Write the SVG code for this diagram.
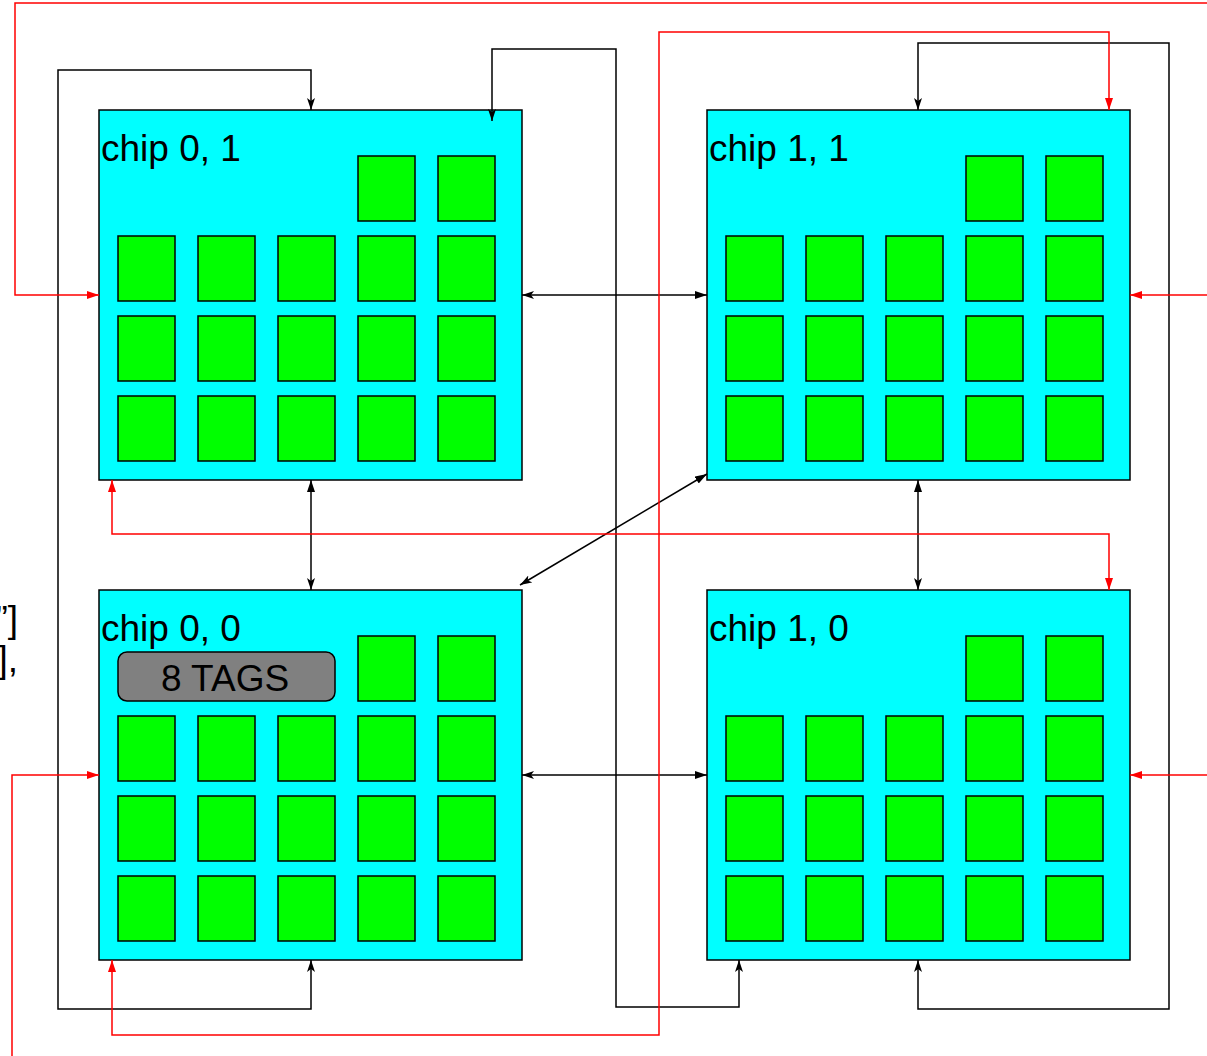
<svg xmlns="http://www.w3.org/2000/svg" xmlns:xlink="http://www.w3.org/1999/xlink" width="1207" height="1056" viewBox="0 0 1207 1056">
<style>
.chip{fill:#00ffff;stroke:#000;stroke-width:1.5}
.core{fill:#00ff00;stroke:#000;stroke-width:1.5}
.tags{fill:#808080;stroke:#000;stroke-width:1.5}
.lbl{font-family:"Liberation Sans",Arial,sans-serif;font-size:37px;fill:#000}
.blk{fill:none;stroke:#000;stroke-width:1.5}
.red{fill:none;stroke:#ff0000;stroke-width:1.5}
</style>
<defs>
<marker id="tri" markerUnits="userSpaceOnUse" markerWidth="13" markerHeight="9" refX="12" refY="4" orient="auto-start-reverse" viewBox="0 0 13 9"><path d="M0,0 L12,4 L0,8 z" fill="#000"/></marker>
<marker id="stl" markerUnits="userSpaceOnUse" markerWidth="13" markerHeight="9" refX="12" refY="4" orient="auto-start-reverse" viewBox="0 0 13 9"><path d="M0,0 L12,4 L0,8 L3,4 z" fill="#000"/></marker>
<marker id="rtri" markerUnits="userSpaceOnUse" markerWidth="13" markerHeight="9" refX="12" refY="4" orient="auto-start-reverse" viewBox="0 0 13 9"><path d="M0,0 L12,4 L0,8 z" fill="#ff0000"/></marker>
<g id="grid">
<rect class="core" x="259" y="46" width="57" height="65"/><rect class="core" x="339" y="46" width="57" height="65"/>
<rect class="core" x="19" y="126" width="57" height="65"/><rect class="core" x="99" y="126" width="57" height="65"/><rect class="core" x="179" y="126" width="57" height="65"/><rect class="core" x="259" y="126" width="57" height="65"/><rect class="core" x="339" y="126" width="57" height="65"/>
<rect class="core" x="19" y="206" width="57" height="65"/><rect class="core" x="99" y="206" width="57" height="65"/><rect class="core" x="179" y="206" width="57" height="65"/><rect class="core" x="259" y="206" width="57" height="65"/><rect class="core" x="339" y="206" width="57" height="65"/>
<rect class="core" x="19" y="286" width="57" height="65"/><rect class="core" x="99" y="286" width="57" height="65"/><rect class="core" x="179" y="286" width="57" height="65"/><rect class="core" x="259" y="286" width="57" height="65"/><rect class="core" x="339" y="286" width="57" height="65"/>
</g>
</defs>
<rect width="1207" height="1056" fill="#fff"/>
<g id="side-text">
<text class="lbl" x="18" y="632" text-anchor="end">”]</text>
<text class="lbl" x="18" y="672" text-anchor="end">],</text>
</g>
<g id="chip01">
<rect class="chip" x="99" y="110" width="423" height="370"/>
<use xlink:href="#grid" href="#grid" transform="translate(99,110)"/>
<text class="lbl" x="101" y="161">chip 0, 1</text>
</g>
<g id="chip11">
<rect class="chip" x="707" y="110" width="423" height="370"/>
<use xlink:href="#grid" href="#grid" transform="translate(707,110)"/>
<text class="lbl" x="709" y="161">chip 1, 1</text>
</g>
<g id="chip00">
<rect class="chip" x="99" y="590" width="423" height="370"/>
<use xlink:href="#grid" href="#grid" transform="translate(99,590)"/>
<text class="lbl" x="101" y="641">chip 0, 0</text>
<rect class="tags" x="118" y="652" width="217" height="49" rx="9"/>
<text class="lbl" x="225" y="691" text-anchor="middle">8 TAGS</text>
</g>
<g id="chip10">
<rect class="chip" x="707" y="590" width="423" height="370"/>
<use xlink:href="#grid" href="#grid" transform="translate(707,590)"/>
<text class="lbl" x="709" y="641">chip 1, 0</text>
</g>
<g id="connectors">
<path class="blk" d="M311,960 L311,1009 L58,1009 L58,70 L311,70 L311,110" marker-start="url(#stl)" marker-end="url(#stl)"/>
<path class="blk" d="M739,960 L739,1007 L616,1007 L616,49 L492,49 L492,121" marker-start="url(#stl)" marker-end="url(#stl)"/>
<path class="blk" d="M918,960 L918,1009 L1169,1009 L1169,43 L918,43 L918,110" marker-start="url(#stl)" marker-end="url(#stl)"/>
<path class="blk" d="M522,295 L707,295" marker-start="url(#stl)" marker-end="url(#tri)"/>
<path class="blk" d="M522,775 L707,775" marker-start="url(#stl)" marker-end="url(#tri)"/>
<path class="blk" d="M311,590 L311,480" marker-start="url(#stl)" marker-end="url(#tri)"/>
<path class="blk" d="M918,590 L918,480" marker-start="url(#stl)" marker-end="url(#tri)"/>
<path class="blk" d="M520,585 L707,474" marker-start="url(#stl)" marker-end="url(#tri)"/>
<path class="red" d="M1210,3 L15,3 L15,295 L99,295" marker-end="url(#rtri)"/>
<path class="red" d="M1210,295 L1130,295" marker-end="url(#rtri)"/>
<path class="red" d="M12,1060 L12,775 L99,775" marker-end="url(#rtri)"/>
<path class="red" d="M1210,775 L1130,775" marker-end="url(#rtri)"/>
<path class="red" d="M112,960 L112,1035 L659,1035 L659,32 L1109,32 L1109,110" marker-start="url(#rtri)" marker-end="url(#rtri)"/>
<path class="red" d="M112,480 L112,534 L1109,534 L1109,590" marker-start="url(#rtri)" marker-end="url(#rtri)"/>
</g>
</svg>
